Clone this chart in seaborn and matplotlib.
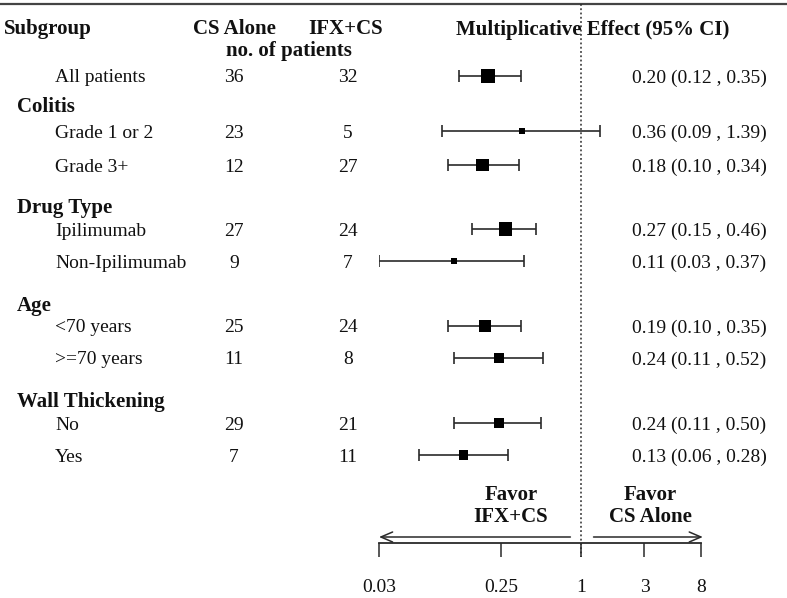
import numpy as np
import pandas as pd
import matplotlib
matplotlib.use('Agg')
import matplotlib.pyplot as plt
import seaborn as sns

sns.set_theme(style='white')
plt.rcParams['font.family'] = ['Liberation Serif', 'DejaVu Serif']

# data
groups = ['', 'Colitis', 'Colitis', 'Drug Type', 'Drug Type', 'Age', 'Age',
          'Wall Thickening', 'Wall Thickening']
subgroups = ['All patients', 'Grade 1 or 2', 'Grade 3+', 'Ipilimumab', 'Non-Ipilimumab',
             '<70 years', '>=70 years', 'No', 'Yes']
n_cs = [36, 23, 12, 27, 9, 25, 11, 29, 7]
n_ifx = [32, 5, 27, 24, 7, 24, 8, 21, 11]
effect = [0.20, 0.36, 0.18, 0.27, 0.11, 0.19, 0.24, 0.24, 0.13]
ci_low = [0.12, 0.09, 0.10, 0.15, 0.03, 0.10, 0.11, 0.11, 0.06]
ci_high = [0.35, 1.39, 0.34, 0.46, 0.37, 0.35, 0.52, 0.50, 0.28]
tick_vals = [0.03, 0.25, 1, 3, 8]
tick_labels = ['0.03', '0.25', '1', '3', '8']

df = pd.DataFrame({'group': groups, 'sub': subgroups, 'n_cs': n_cs, 'n_ifx': n_ifx,
                   'est': effect, 'lo': ci_low, 'hi': ci_high})
# inverse-variance weight from the CI, used for box area
se = (np.log(df['hi']) - np.log(df['lo'])) / (2 * 1.96)
df['w'] = 1 / se**2

# layout (figure pixels, y downward)
row_y = [76, 131, 165, 229, 261, 326, 358, 423, 455]
head_y = {'Colitis': 106, 'Drug Type': 206, 'Age': 304, 'Wall Thickening': 400}
df['y'] = row_y
ink = '#111111'
line_c = '#2a2a2a'
fs = 14
fs_b = 15

fig = plt.figure(figsize=(7.87, 5.98), dpi=100)
tab = fig.add_axes([0, 0, 1, 1])
tab.set_xlim(0, 787)
tab.set_ylim(598, 0)
tab.axis('off')

ax = fig.add_axes([379 / 787, 0, (701 - 379) / 787, 1])
ax.patch.set_alpha(0)
ax.set_xscale('log')
ax.set_xlim(0.03, 8)
ax.set_ylim(598, 0)

# top rule
tab.plot([0, 787], [4, 4], color='#444444', lw=1.6, solid_capstyle='butt')

# column headers
bold = dict(fontweight='bold', fontsize=fs_b, color=ink, va='baseline')
tab.text(4, 34, 'Subgroup', ha='left', **bold)
tab.text(234, 34, 'CS Alone', ha='center', **bold)
tab.text(346, 34, 'IFX+CS', ha='center', **bold)
tab.text(289, 56, 'no. of patients', ha='center', **bold)
tab.text(593, 35, 'Multiplicative Effect (95% CI)', ha='center', **bold)

for g, hy in head_y.items():
    tab.text(17, hy + 6.5, g, ha='left', **bold)

reg = dict(fontsize=fs, color=ink, va='baseline')
for _, r in df.iterrows():
    b = r['y'] + 6.5
    tab.text(55, b, r['sub'], ha='left', **reg)
    tab.text(234, b, str(r['n_cs']), ha='center', **reg)
    tab.text(348, b, str(r['n_ifx']), ha='center', **reg)
    tab.text(632, b, f"{r['est']:.2f} ({r['lo']:.2f} , {r['hi']:.2f})", ha='left', **reg)

# confidence intervals and boxes
ax.errorbar(df['est'], df['y'], xerr=[df['est'] - df['lo'], df['hi'] - df['est']],
            fmt='none', ecolor=line_c, elinewidth=1.2, capsize=4, capthick=1.2, zorder=2)
sns.scatterplot(data=df, x='est', y='y', size='w', sizes=(0, 105), size_norm=(0, df['w'].max()),
                marker='s', color='black', edgecolor='black', linewidth=0, legend=False,
                ax=ax, zorder=3)
ax.set_xlabel('')
ax.set_ylabel('')

# null line
ax.vlines(1, 4, 557, colors=line_c, linestyles=(0, (1.2, 1.6)), lw=1.1, zorder=1)

# axis
for s in ['top', 'left', 'right']:
    ax.spines[s].set_visible(False)
ax.spines['bottom'].set_position(('data', 543))
ax.spines['bottom'].set_color(line_c)
ax.spines['bottom'].set_linewidth(1.3)
ax.set_yticks([])
ax.set_xticks(tick_vals)
ax.set_xticklabels(tick_labels)
ax.xaxis.set_minor_locator(matplotlib.ticker.NullLocator())
ax.tick_params(axis='x', direction='out', length=10, width=1.1, color=line_c,
               labelsize=fs, labelcolor=ink, pad=16, bottom=True)
ax.grid(False)

# favour arrows
arrow = dict(arrowstyle='->,head_length=0.7,head_width=0.3', color=line_c, lw=1.1,
             shrinkA=0, shrinkB=0)
ax.annotate('', xy=(0.03, 537), xytext=(0.83, 537), arrowprops=arrow, annotation_clip=False)
ax.annotate('', xy=(8.26, 537), xytext=(1.24, 537), arrowprops=arrow, annotation_clip=False)
tab.text(511, 500, 'Favor', ha='center', **bold)
tab.text(511, 522, 'IFX+CS', ha='center', **bold)
tab.text(650, 500, 'Favor', ha='center', **bold)
tab.text(650, 522, 'CS Alone', ha='center', **bold)

fig.savefig('out.png', dpi=100)
